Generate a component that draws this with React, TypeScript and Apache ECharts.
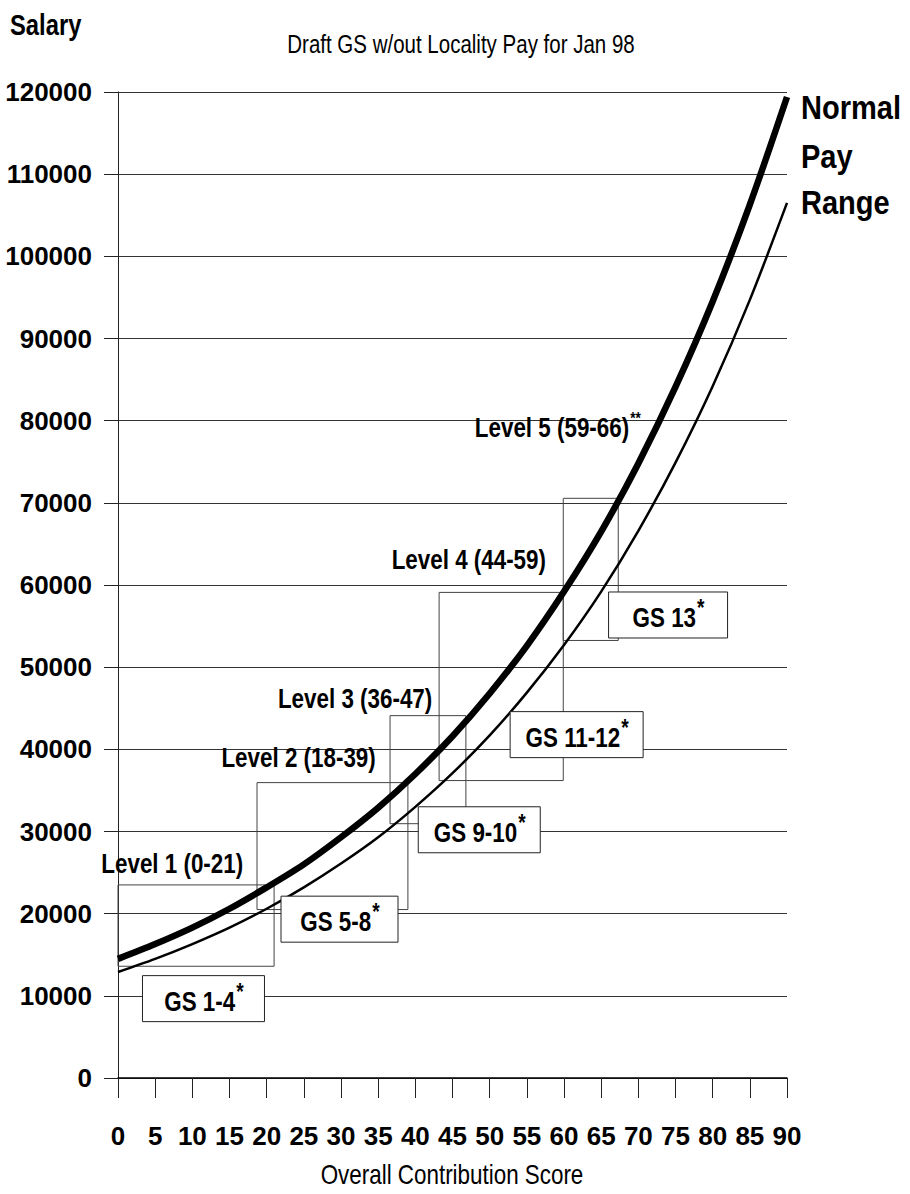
import React, { useEffect, useRef } from "react";
import * as echarts from "echarts";

// ---- data ----
const scoreTicks = [0, 5, 10, 15, 20, 25, 30, 35, 40, 45, 50, 55, 60, 65, 70, 75, 80, 85, 90];
const upperCurve = [14500, 16300, 18300, 20600, 23200, 26000, 29300, 32900, 37000, 41600, 46800, 52600, 59200, 66500, 74800, 84100, 94500, 106300, 119400];
const lowerCurve = [12900, 14500, 16300, 18300, 20600, 23200, 26100, 29300, 33000, 37100, 41700, 46900, 52700, 59200, 66600, 74900, 84200, 94700, 106500];

const levelLabels = ["Level 1 (0-21)", "Level 2 (18-39)", "Level 3 (36-47)", "Level 4 (44-59)", "Level 5 (59-66)"];
const levelSuffix = ["", "", "", "", "**"];
const levelScoreFrom = [0, 18.7, 36.6, 43.2, 59.9];
const levelScoreTo = [21, 39, 46.8, 59.9, 67.3];
const levelSalaryLow = [13600, 20500, 30950, 36200, 53250];
const levelSalaryHigh = [23500, 35950, 44100, 59100, 70550];
const levelLabelScore = [7.3, 24.3, 31.9, 47.2, 59.1];
const levelLabelSalary = [26200, 39000, 46300, 63100, 79200];

const gradeLabels = ["GS 1-4", "GS 5-8", "GS 9-10", "GS 11-12", "GS 13"];
const gradeSuffix = ["*", "*", "*", "*", "*"];
const gradeScore = [11.5, 29.8, 48.6, 61.7, 74.0];
const gradeSalary = [9660, 19330, 30210, 41790, 56350];

const yTickMax = 120000;
const yTickStep = 10000;

const titleText = "Draft GS w/out Locality Pay for Jan 98";
const yAxisTitle = "Salary";
const xAxisTitle = "Overall Contribution Score";
const curveLegend = ["Normal", "Pay", "Range"];

// ---- layout / style constants ----
const FONT = "'Liberation Sans', Arial, sans-serif";
const SQUEEZE = 0.8;
const GRADE_BOX_W = [122, 117, 122, 133, 119];
const GRADE_BOX_H = 46;
const MAIN_FONT = `bold 28px ${FONT}`;
const GRADE_SUP_FONT = `bold 24px ${FONT}`;
const LEVEL_SUP_FONT = `bold 17px ${FONT}`;

let measureCtx: CanvasRenderingContext2D | null = null;
function textWidth(text: string, font: string): number {
  if (!text) return 0;
  if (!measureCtx) measureCtx = document.createElement("canvas").getContext("2d");
  if (!measureCtx) return text.length * 14;
  measureCtx.font = font;
  return measureCtx.measureText(text).width;
}

function txt(x: number, y: number, text: string, font: string, align: string, sx: number) {
  return {
    type: "text",
    x,
    y,
    scaleX: sx,
    style: { text, font, fill: "#000", align, verticalAlign: "middle", textAlign: align, textVerticalAlign: "middle" },
  };
}

// label with superscript suffix, centered at (cx, cy)
function supLabel(cx: number, cy: number, main: string, sup: string, supFont: string, supRise: number) {
  const wMain = textWidth(main, MAIN_FONT) * SQUEEZE;
  const wSup = textWidth(sup, supFont) * SQUEEZE;
  const left = cx - (wMain + wSup) / 2;
  const children: any[] = [txt(left, cy, main, MAIN_FONT, "left", SQUEEZE)];
  if (sup) children.push(txt(left + wMain + 1, cy - supRise, sup, supFont, "left", SQUEEZE));
  return children;
}

export default function App() {
  const ref = useRef<HTMLDivElement>(null);

  useEffect(() => {
    if (!ref.current) return;
    const chart = echarts.init(ref.current, undefined, { renderer: "svg" });

    const levelRects = levelLabels.map((_, i) => [levelScoreFrom[i], levelScoreTo[i], levelSalaryLow[i], levelSalaryHigh[i]]);
    const levelText = levelLabels.map((_, i) => [levelLabelScore[i], levelLabelSalary[i], i]);
    const gradeData = gradeLabels.map((_, i) => [gradeScore[i], gradeSalary[i], i]);

    const option: any = {
      animation: false,
      backgroundColor: "#ffffff",
      grid: { left: 118, right: 123, top: 92, bottom: 116, containLabel: false, outerBoundsMode: "none" },
      xAxis: {
        type: "value",
        min: 0,
        max: 90,
        interval: 5,
        axisLine: { show: true, onZero: false, lineStyle: { color: "#000", width: 1.5 } },
        axisTick: { show: true, inside: false, length: 20, lineStyle: { color: "#222", width: 1 } },
        axisLabel: { margin: 45, fontFamily: FONT, fontSize: 26, fontWeight: "bold", color: "#000" },
        splitLine: { show: false },
      },
      yAxis: {
        type: "value",
        min: 0,
        max: yTickMax,
        interval: yTickStep,
        axisLine: { show: true, lineStyle: { color: "#222", width: 1 } },
        axisTick: { show: true, inside: false, length: 14, lineStyle: { color: "#222", width: 1 } },
        axisLabel: {
          margin: 26,
          fontFamily: FONT,
          fontSize: 26,
          fontWeight: "bold",
          color: "#000",
          formatter: (v: number) => String(v),
        },
        splitLine: { show: true, lineStyle: { color: "#333", width: 1 } },
      },
      graphic: [
        txt(10, 25, yAxisTitle, `bold 29px ${FONT}`, "left", 0.82),
        txt(461, 44, titleText, `25px ${FONT}`, "center", 0.82),
        txt(801, 108, curveLegend[0], `bold 33px ${FONT}`, "left", 0.88),
        txt(801, 157, curveLegend[1], `bold 33px ${FONT}`, "left", 0.88),
        txt(801, 203, curveLegend[2], `bold 33px ${FONT}`, "left", 0.88),
        txt(452, 1175, xAxisTitle, `27px ${FONT}`, "center", 0.83),
      ],
      series: [
        {
          type: "custom",
          name: "levels",
          z: 1,
          data: levelRects,
          renderItem: (params: any, api: any) => {
            const p0 = api.coord([api.value(0), api.value(3)]);
            const p1 = api.coord([api.value(1), api.value(2)]);
            return {
              type: "rect",
              shape: { x: p0[0], y: p0[1], width: p1[0] - p0[0], height: p1[1] - p0[1] },
              style: { fill: "none", stroke: "#444", lineWidth: 1 },
            };
          },
        },
        {
          type: "line",
          name: "upper",
          z: 3,
          data: scoreTicks.map((s, i) => [s, upperCurve[i]]),
          symbol: "none",
          smooth: 0.3,
          lineStyle: { color: "#000", width: 6.5 },
        },
        {
          type: "line",
          name: "lower",
          z: 3,
          data: scoreTicks.map((s, i) => [s, lowerCurve[i]]),
          symbol: "none",
          smooth: 0.3,
          lineStyle: { color: "#000", width: 2.5 },
        },
        {
          type: "custom",
          name: "levelLabels",
          z: 5,
          data: levelText,
          renderItem: (params: any, api: any) => {
            const c = api.coord([api.value(0), api.value(1)]);
            const i = api.value(2);
            return {
              type: "group",
              children: supLabel(c[0], c[1], levelLabels[i], levelSuffix[i], LEVEL_SUP_FONT, 9),
            };
          },
        },
        {
          type: "custom",
          name: "grades",
          z: 6,
          data: gradeData,
          renderItem: (params: any, api: any) => {
            const c = api.coord([api.value(0), api.value(1)]);
            const i = api.value(2);
            const w = GRADE_BOX_W[i];
            return {
              type: "group",
              children: [
                {
                  type: "rect",
                  shape: { x: c[0] - w / 2, y: c[1] - GRADE_BOX_H / 2, width: w, height: GRADE_BOX_H },
                  style: { fill: "#fff", stroke: "#222", lineWidth: 1 },
                },
                ...supLabel(c[0], c[1] + 2, gradeLabels[i], gradeSuffix[i], GRADE_SUP_FONT, 9),
              ],
            };
          },
        },
      ],
    };

    chart.setOption(option);
    return () => chart.dispose();
  }, []);

  return (
    <div
      ref={ref}
      style={{ position: "absolute", left: 0, top: 0, width: 910, height: 1194, background: "#fff" }}
    />
  );
}
